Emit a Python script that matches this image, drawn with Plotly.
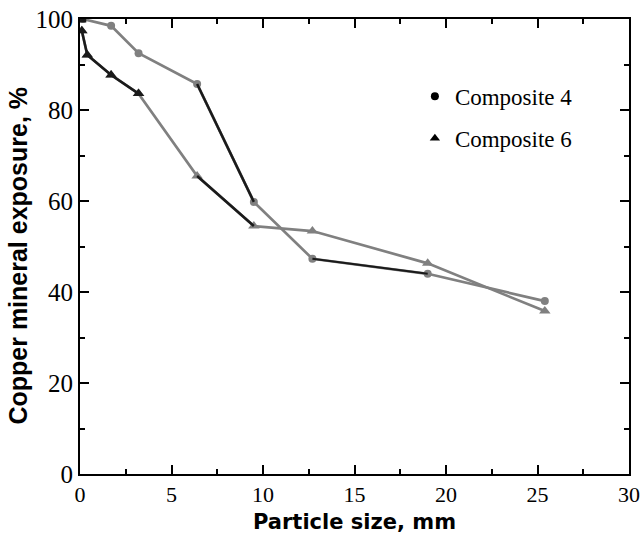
import plotly.graph_objects as go

# Data
size_c4 = [0.15, 1.7, 3.2, 6.4, 9.5, 12.7, 19.0, 25.4]
exp_c4 = [100.0, 98.5, 92.5, 85.7, 59.8, 47.3, 44.0, 38.0]
size_c6 = [0.1, 0.4, 1.7, 3.2, 6.4, 9.5, 12.7, 19.0, 25.4]
exp_c6 = [97.4, 92.1, 87.7, 83.6, 65.5, 54.5, 53.4, 46.3, 35.8]

x_ticks = [0, 5, 10, 15, 20, 25, 30]
y_ticks = [0, 20, 40, 60, 80, 100]

GRAY = "#808080"
DARK = "#1a1a1a"

fig = go.Figure()

fig.add_trace(go.Scatter(x=size_c4, y=exp_c4, mode="lines+markers", showlegend=False,
                         line=dict(color=GRAY, width=2.7),
                         marker=dict(symbol="circle", size=8, color=GRAY)))
fig.add_trace(go.Scatter(x=size_c6, y=exp_c6, mode="lines+markers", showlegend=False,
                         line=dict(color=GRAY, width=2.7),
                         marker=dict(symbol="triangle-up", size=10, color=GRAY)))

# darker segments (as in the scanned original)
fig.add_trace(go.Scatter(x=size_c4[3:5], y=exp_c4[3:5], mode="lines", showlegend=False,
                         line=dict(color=DARK, width=2.5)))
fig.add_trace(go.Scatter(x=size_c4[5:7], y=exp_c4[5:7], mode="lines", showlegend=False,
                         line=dict(color=DARK, width=2)))
fig.add_trace(go.Scatter(x=size_c6[0:4], y=exp_c6[0:4], mode="lines+markers", showlegend=False,
                         line=dict(color=DARK, width=2.5),
                         marker=dict(symbol="triangle-up", size=10, color=DARK)))
fig.add_trace(go.Scatter(x=size_c6[4:6], y=exp_c6[4:6], mode="lines", showlegend=False,
                         line=dict(color=DARK, width=2.5)))
fig.add_trace(go.Scatter(x=size_c4[0:1], y=exp_c4[0:1], mode="markers", showlegend=False,
                         marker=dict(symbol="square", size=7, color=DARK)))

# legend entries
fig.add_trace(go.Scatter(x=[None], y=[None], mode="markers", name="Composite 4",
                         marker=dict(symbol="circle", size=8, color="black"), legend="legend"))
fig.add_trace(go.Scatter(x=[None], y=[None], mode="markers", name="Composite 6",
                         marker=dict(symbol="triangle-up", size=9, color="black"), legend="legend2"))

legend_font = dict(family="Liberation Serif", size=23, color="black")
fig.update_layout(
    width=643, height=536,
    margin=dict(l=80, r=14, t=19, b=62),
    plot_bgcolor="white", paper_bgcolor="white",
    legend=dict(x=0.61, y=0.83, xanchor="left", yanchor="middle", font=legend_font,
                bgcolor="rgba(0,0,0,0)"),
    legend2=dict(x=0.61, y=0.738, xanchor="left", yanchor="middle", font=legend_font,
                 bgcolor="rgba(0,0,0,0)"),
    annotations=[
        dict(text="<b>Particle size, mm</b>", xref="paper", yref="paper", x=0.5, y=-0.105,
             xanchor="center", yanchor="middle", showarrow=False,
             font=dict(family="DejaVu Sans", size=21, color="black")),
        dict(text="<b>Copper mineral exposure, %</b>", xref="paper", yref="paper",
             x=-0.113, y=0.48, xanchor="center", yanchor="middle", textangle=-90,
             showarrow=False,
             font=dict(family="Liberation Sans", size=25, color="black")),
    ],
)

axis_common = dict(showline=True, linecolor="black", linewidth=2, mirror="allticks",
                   ticks="inside", ticklen=9, tickwidth=1.5, tickcolor="black",
                   showgrid=False, zeroline=False, automargin=False)

fig.update_xaxes(range=[0, 30], tickvals=x_ticks, ticktext=[str(v) for v in x_ticks],
                 tickfont=dict(family="Liberation Serif", size=22, color="black"),
                 minor=dict(dtick=2.5, ticks="inside", ticklen=5, tickcolor="black", tickwidth=1.5),
                 **axis_common)
fig.update_yaxes(range=[0, 100], tickvals=y_ticks, ticktext=[str(v) for v in y_ticks],
                 tickfont=dict(family="Liberation Serif", size=25, color="black"),
                 minor=dict(dtick=10, ticks="inside", ticklen=5, tickcolor="black", tickwidth=1.5),
                 **axis_common)

fig.write_html("out.html")
